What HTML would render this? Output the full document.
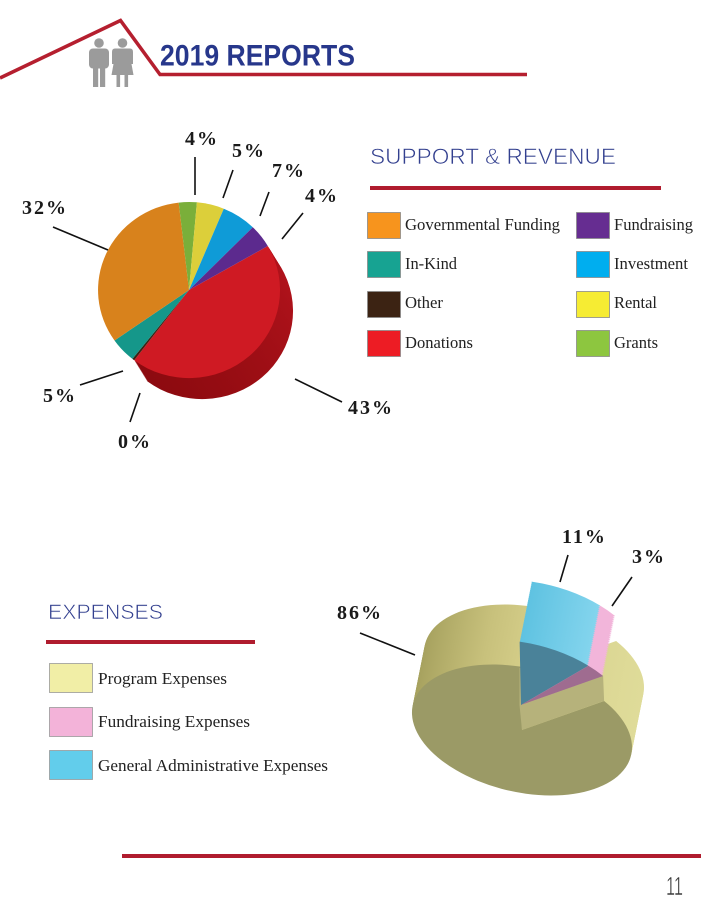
<!DOCTYPE html>
<html><head><meta charset="utf-8"><style>
html,body{margin:0;padding:0;background:#fff;}
svg{display:block;}
</style></head><body>
<svg width="701" height="907" viewBox="0 0 701 907" xmlns="http://www.w3.org/2000/svg">
<defs>
<linearGradient id="sideRed" gradientUnits="userSpaceOnUse" x1="290" y1="250" x2="170" y2="400">
<stop offset="0" stop-color="#b3131c"/><stop offset="1" stop-color="#8b0a0f"/></linearGradient>
<linearGradient id="band" gradientUnits="userSpaceOnUse" x1="413" y1="0" x2="645" y2="0">
<stop offset="0" stop-color="#a6a15e"/><stop offset="0.3" stop-color="#c8c17c"/><stop offset="0.5" stop-color="#d6cf8a"/><stop offset="1" stop-color="#e0dd9b"/></linearGradient>
<linearGradient id="blueSide" gradientUnits="userSpaceOnUse" x1="520" y1="0" x2="610" y2="0">
<stop offset="0" stop-color="#5ec2e1"/><stop offset="1" stop-color="#8fdaf1"/></linearGradient>
<path id="redw" d="M189,290 L267.8,246 A91 88 0 0 1 134.2,360.3 Z"/>
<path id="bigw" d="M522,730 L604.13,700.94 A112 62 13 1 1 520.63,666.66 Z"/>
<path id="bluew" d="M522,730 L520.63,666.66 A112 62 13 0 1 589.41,690.74 Z"/>
<path id="pinkw" d="M522,730 L589.41,690.74 A112 62 13 0 1 604.13,700.94 Z"/>
</defs>

<!-- Header -->
<polyline points="0,78 120.5,20.5 160,74.5 527,74.5" fill="none" stroke="#b51f2f" stroke-width="3.5"/>
<g fill="#9b9b9b">
<circle cx="99" cy="43" r="4.8"/>
<rect x="89" y="48.5" width="20" height="20" rx="4"/>
<rect x="93" y="66" width="5.2" height="21"/>
<rect x="100" y="66" width="5.2" height="21"/>
<circle cx="122.5" cy="43" r="4.8"/>
<path d="M115,48.5 L130,48.5 Q133,48.5 133,52 L133,64 L131.5,64 L133.5,75 L111.5,75 L113.5,64 L112,64 L112,52 Q112,48.5 115,48.5 Z"/>
<rect x="116.5" y="74" width="3.6" height="13"/>
<rect x="124.5" y="74" width="3.6" height="13"/>
</g>
<text x="160" y="65.5" font-family="Liberation Sans, sans-serif" font-weight="bold" font-size="30" fill="#27378b" textLength="195" lengthAdjust="spacingAndGlyphs">2019 REPORTS</text>

<!-- Revenue pie -->
<g fill="url(#sideRed)">
<use href="#redw" transform="translate(13,21)"/>
<use href="#redw" transform="translate(12.38,20)"/>
<use href="#redw" transform="translate(11.76,19)"/>
<use href="#redw" transform="translate(11.14,18)"/>
<use href="#redw" transform="translate(10.52,17)"/>
<use href="#redw" transform="translate(9.9,16)"/>
<use href="#redw" transform="translate(9.29,15)"/>
<use href="#redw" transform="translate(8.67,14)"/>
<use href="#redw" transform="translate(8.05,13)"/>
<use href="#redw" transform="translate(7.43,12)"/>
<use href="#redw" transform="translate(6.81,11)"/>
<use href="#redw" transform="translate(6.19,10)"/>
<use href="#redw" transform="translate(5.57,9)"/>
<use href="#redw" transform="translate(4.95,8)"/>
<use href="#redw" transform="translate(4.33,7)"/>
<use href="#redw" transform="translate(3.71,6)"/>
<use href="#redw" transform="translate(3.1,5)"/>
<use href="#redw" transform="translate(2.48,4)"/>
<use href="#redw" transform="translate(1.86,3)"/>
<use href="#redw" transform="translate(1.24,2)"/>
<use href="#redw" transform="translate(0.62,1)"/>
</g>
<use href="#redw" fill="#cf1a23"/>
<path d="M189,290 L134.2,360.3 A91 88 0 0 1 132.4,358.9 Z" fill="#3a2414"/>
<path d="M189,290 L132.4,358.9 A91 88 0 0 1 114.5,340.5 Z" fill="#15978a"/>
<path d="M189,290 L114.5,340.5 A91 88 0 0 1 178.7,202.6 Z" fill="#d8821c"/>
<path d="M189,290 L178.7,202.6 A91 88 0 0 1 196.9,202.3 Z" fill="#7aaf3a"/>
<path d="M189,290 L196.9,202.3 A91 88 0 0 1 223.8,208.7 Z" fill="#dccf3a"/>
<path d="M189,290 L223.8,208.7 A91 88 0 0 1 252.8,227.2 Z" fill="#0f9bd7"/>
<path d="M189,290 L252.8,227.2 A91 88 0 0 1 267.8,246 Z" fill="#5c2a8e"/>

<g stroke="#111" stroke-width="1.6">
<line x1="195" y1="157" x2="195" y2="195"/>
<line x1="233" y1="170" x2="223" y2="198"/>
<line x1="269" y1="192" x2="260" y2="216"/>
<line x1="303" y1="213" x2="282" y2="239"/>
<line x1="53" y1="227" x2="108" y2="250"/>
<line x1="80" y1="385" x2="123" y2="371"/>
<line x1="130" y1="422" x2="140" y2="393"/>
<line x1="295" y1="379" x2="342" y2="402"/>
<line x1="360" y1="633" x2="415" y2="655"/>
<line x1="568" y1="555" x2="560" y2="582"/>
<line x1="632" y1="577" x2="612" y2="606"/>
</g>
<g font-family="Liberation Serif, serif" font-weight="bold" font-size="20" fill="#1a1a1a" letter-spacing="2">
<text x="185" y="145">4%</text>
<text x="232" y="157">5%</text>
<text x="272" y="177">7%</text>
<text x="305" y="202">4%</text>
<text x="22" y="214">32%</text>
<text x="43" y="402">5%</text>
<text x="118" y="448">0%</text>
<text x="348" y="414">43%</text>
<text x="337" y="619">86%</text>
<text x="562" y="543">11%</text>
<text x="632" y="563">3%</text>
</g>

<!-- Support & Revenue legend -->
<text x="370" y="164" font-family="Liberation Sans, sans-serif" font-size="22" fill="#33408f" stroke="#fff" stroke-width="0.6" textLength="246" lengthAdjust="spacingAndGlyphs">SUPPORT &amp; REVENUE</text>
<rect x="370" y="186" width="291" height="4" fill="#b01c2e"/>
<g stroke="#8a8a8a" stroke-width="0.8">
<rect x="367.5" y="212.5" width="33" height="26" fill="#f7941d"/>
<rect x="367.5" y="251.5" width="33" height="26" fill="#17a392"/>
<rect x="367.5" y="291.5" width="33" height="26" fill="#3c2313"/>
<rect x="367.5" y="330.5" width="33" height="26" fill="#ed1c24"/>
<rect x="576.5" y="212.5" width="33" height="26" fill="#662d91"/>
<rect x="576.5" y="251.5" width="33" height="26" fill="#00aeef"/>
<rect x="576.5" y="291.5" width="33" height="26" fill="#f6ec33"/>
<rect x="576.5" y="330.5" width="33" height="26" fill="#8dc63f"/>
</g>
<g font-family="Liberation Serif, serif" font-size="16.5" fill="#222">
<text x="405" y="230" textLength="155" lengthAdjust="spacingAndGlyphs">Governmental Funding</text>
<text x="405" y="269" textLength="52" lengthAdjust="spacingAndGlyphs">In-Kind</text>
<text x="405" y="308" textLength="38" lengthAdjust="spacingAndGlyphs">Other</text>
<text x="405" y="348" textLength="68" lengthAdjust="spacingAndGlyphs">Donations</text>
<text x="614" y="230" textLength="79" lengthAdjust="spacingAndGlyphs">Fundraising</text>
<text x="614" y="269" textLength="74" lengthAdjust="spacingAndGlyphs">Investment</text>
<text x="614" y="308" textLength="43" lengthAdjust="spacingAndGlyphs">Rental</text>
<text x="614" y="348" textLength="44" lengthAdjust="spacingAndGlyphs">Grants</text>
</g>

<!-- Expenses legend -->
<text x="48" y="619" font-family="Liberation Sans, sans-serif" font-size="21" fill="#33408f" stroke="#fff" stroke-width="0.6" textLength="115" lengthAdjust="spacingAndGlyphs">EXPENSES</text>
<rect x="46" y="640" width="209" height="4" fill="#b01c2e"/>
<g stroke="#999" stroke-width="0.8">
<rect x="49.5" y="663.5" width="43" height="29" fill="#f1eea6"/>
<rect x="49.5" y="707.5" width="43" height="29" fill="#f3b3d9"/>
<rect x="49.5" y="750.5" width="43" height="29" fill="#62cdeb"/>
</g>
<g font-family="Liberation Serif, serif" font-size="17" fill="#222">
<text x="98" y="684" textLength="129" lengthAdjust="spacingAndGlyphs">Program Expenses</text>
<text x="98" y="727" textLength="152" lengthAdjust="spacingAndGlyphs">Fundraising Expenses</text>
<text x="98" y="771" textLength="230" lengthAdjust="spacingAndGlyphs">General Administrative Expenses</text>
</g>

<!-- Expenses 3D pie -->
<g fill="url(#band)">
<use href="#bigw" transform="translate(12,-60)"/>
<use href="#bigw" transform="translate(11.6,-58)"/>
<use href="#bigw" transform="translate(11.2,-56)"/>
<use href="#bigw" transform="translate(10.8,-54)"/>
<use href="#bigw" transform="translate(10.4,-52)"/>
<use href="#bigw" transform="translate(10,-50)"/>
<use href="#bigw" transform="translate(9.6,-48)"/>
<use href="#bigw" transform="translate(9.2,-46)"/>
<use href="#bigw" transform="translate(8.8,-44)"/>
<use href="#bigw" transform="translate(8.4,-42)"/>
<use href="#bigw" transform="translate(8,-40)"/>
<use href="#bigw" transform="translate(7.6,-38)"/>
<use href="#bigw" transform="translate(7.2,-36)"/>
<use href="#bigw" transform="translate(6.8,-34)"/>
<use href="#bigw" transform="translate(6.4,-32)"/>
<use href="#bigw" transform="translate(6,-30)"/>
<use href="#bigw" transform="translate(5.6,-28)"/>
<use href="#bigw" transform="translate(5.2,-26)"/>
<use href="#bigw" transform="translate(4.8,-24)"/>
<use href="#bigw" transform="translate(4.4,-22)"/>
<use href="#bigw" transform="translate(4,-20)"/>
<use href="#bigw" transform="translate(3.6,-18)"/>
<use href="#bigw" transform="translate(3.2,-16)"/>
<use href="#bigw" transform="translate(2.8,-14)"/>
<use href="#bigw" transform="translate(2.4,-12)"/>
<use href="#bigw" transform="translate(2,-10)"/>
<use href="#bigw" transform="translate(1.6,-8)"/>
<use href="#bigw" transform="translate(1.2,-6)"/>
<use href="#bigw" transform="translate(0.8,-4)"/>
<use href="#bigw" transform="translate(0.4,-2)"/>
</g>
<use href="#bigw" fill="#9b9a66"/>
<polygon points="522,730 604.1,700.9 603.1,675.9 521,705" fill="#b6b27b"/>
<polygon points="519.5,668 522,668 522,730 519.5,705" fill="#b6b27b"/>

<g transform="translate(-1,-25)">
<g fill="#f2b5da">
<use href="#pinkw" transform="translate(12,-60)"/>
<use href="#pinkw" transform="translate(11.6,-58)"/>
<use href="#pinkw" transform="translate(11.2,-56)"/>
<use href="#pinkw" transform="translate(10.8,-54)"/>
<use href="#pinkw" transform="translate(10.4,-52)"/>
<use href="#pinkw" transform="translate(10,-50)"/>
<use href="#pinkw" transform="translate(9.6,-48)"/>
<use href="#pinkw" transform="translate(9.2,-46)"/>
<use href="#pinkw" transform="translate(8.8,-44)"/>
<use href="#pinkw" transform="translate(8.4,-42)"/>
<use href="#pinkw" transform="translate(8,-40)"/>
<use href="#pinkw" transform="translate(7.6,-38)"/>
<use href="#pinkw" transform="translate(7.2,-36)"/>
<use href="#pinkw" transform="translate(6.8,-34)"/>
<use href="#pinkw" transform="translate(6.4,-32)"/>
<use href="#pinkw" transform="translate(6,-30)"/>
<use href="#pinkw" transform="translate(5.6,-28)"/>
<use href="#pinkw" transform="translate(5.2,-26)"/>
<use href="#pinkw" transform="translate(4.8,-24)"/>
<use href="#pinkw" transform="translate(4.4,-22)"/>
<use href="#pinkw" transform="translate(4,-20)"/>
<use href="#pinkw" transform="translate(3.6,-18)"/>
<use href="#pinkw" transform="translate(3.2,-16)"/>
<use href="#pinkw" transform="translate(2.8,-14)"/>
<use href="#pinkw" transform="translate(2.4,-12)"/>
<use href="#pinkw" transform="translate(2,-10)"/>
<use href="#pinkw" transform="translate(1.6,-8)"/>
<use href="#pinkw" transform="translate(1.2,-6)"/>
<use href="#pinkw" transform="translate(0.8,-4)"/>
<use href="#pinkw" transform="translate(0.4,-2)"/>
</g>
<g fill="url(#blueSide)">
<use href="#bluew" transform="translate(12,-60)"/>
<use href="#bluew" transform="translate(11.6,-58)"/>
<use href="#bluew" transform="translate(11.2,-56)"/>
<use href="#bluew" transform="translate(10.8,-54)"/>
<use href="#bluew" transform="translate(10.4,-52)"/>
<use href="#bluew" transform="translate(10,-50)"/>
<use href="#bluew" transform="translate(9.6,-48)"/>
<use href="#bluew" transform="translate(9.2,-46)"/>
<use href="#bluew" transform="translate(8.8,-44)"/>
<use href="#bluew" transform="translate(8.4,-42)"/>
<use href="#bluew" transform="translate(8,-40)"/>
<use href="#bluew" transform="translate(7.6,-38)"/>
<use href="#bluew" transform="translate(7.2,-36)"/>
<use href="#bluew" transform="translate(6.8,-34)"/>
<use href="#bluew" transform="translate(6.4,-32)"/>
<use href="#bluew" transform="translate(6,-30)"/>
<use href="#bluew" transform="translate(5.6,-28)"/>
<use href="#bluew" transform="translate(5.2,-26)"/>
<use href="#bluew" transform="translate(4.8,-24)"/>
<use href="#bluew" transform="translate(4.4,-22)"/>
<use href="#bluew" transform="translate(4,-20)"/>
<use href="#bluew" transform="translate(3.6,-18)"/>
<use href="#bluew" transform="translate(3.2,-16)"/>
<use href="#bluew" transform="translate(2.8,-14)"/>
<use href="#bluew" transform="translate(2.4,-12)"/>
<use href="#bluew" transform="translate(2,-10)"/>
<use href="#bluew" transform="translate(1.6,-8)"/>
<use href="#bluew" transform="translate(1.2,-6)"/>
<use href="#bluew" transform="translate(0.8,-4)"/>
<use href="#bluew" transform="translate(0.4,-2)"/>
</g>
<use href="#bluew" fill="#4a8299"/>
<use href="#pinkw" fill="#9f6c90"/>
</g>

<!-- Footer -->
<rect x="122" y="854" width="579" height="4" fill="#b01c2e"/>
<text x="666" y="895" font-family="Liberation Sans, sans-serif" font-size="26" fill="#333" stroke="#fff" stroke-width="0.5" textLength="17" lengthAdjust="spacingAndGlyphs">11</text>
</svg>
</body></html>
